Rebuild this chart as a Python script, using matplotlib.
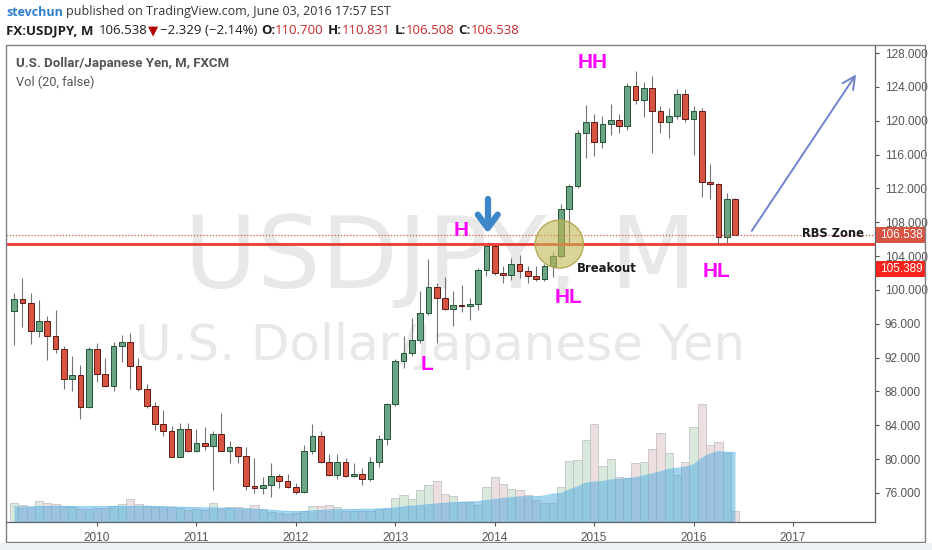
import matplotlib.pyplot as plt
from matplotlib.patches import Rectangle, Ellipse
import numpy as np
import pandas as pd

# monthly candles, Mar 2009 .. Jun 2016
months = pd.date_range("2009-03-01", "2016-06-01", freq="MS")

opens = [97.5, 98.9, 98.5, 95.1, 96.3, 94.6, 93.0, 89.5, 89.9, 86.2,
         93.0, 90.1, 88.6, 93.4, 93.8, 91.0, 88.3, 86.3, 84.1, 83.3, 80.3, 83.6,
         81.0, 81.9, 81.6, 83.0, 81.0, 81.4, 80.4, 76.8, 76.6, 77.0, 78.0, 77.4,
         76.7, 76.1, 81.0, 82.7, 79.7, 78.1, 79.7, 78.0, 78.2, 77.7, 79.7, 82.4,
         86.5, 91.6, 92.5, 94.1, 97.3, 100.4, 99.0, 97.7, 98.2, 98.1, 98.3, 102.4,
         105.2, 102.0, 101.8, 103.1, 102.2, 101.7, 101.3, 102.8, 104.0, 109.6, 112.3, 118.5,
         119.8, 117.5, 119.6, 120.1, 119.4, 124.1, 122.4, 123.9, 121.2, 119.8, 120.6, 123.1,
         120.2, 121.1, 112.7, 112.5, 106.3, 110.7]
highs = [99.6, 101.4, 99.6, 98.8, 96.9, 97.6, 93.4, 92.2, 91.1, 93.2,
         93.7, 92.0, 93.8, 94.7, 94.9, 92.0, 88.9, 86.8, 85.8, 83.9, 84.3, 84.3,
         83.6, 83.8, 83.3, 85.4, 82.1, 81.6, 81.4, 80.1, 77.9, 79.5, 78.3, 78.3,
         77.2, 81.7, 84.2, 83.3, 80.6, 80.6, 80.1, 79.6, 79.0, 80.3, 82.8, 86.6,
         91.8, 94.5, 96.7, 99.9, 103.7, 100.8, 101.5, 99.9, 100.6, 99.0, 102.6, 105.4,
         105.4, 102.8, 103.8, 104.1, 102.8, 102.8, 103.1, 104.5, 110.1, 112.5, 118.9, 121.9,
         120.8, 120.5, 122.0, 120.8, 124.5, 125.9, 124.6, 125.3, 121.7, 121.5, 123.8, 123.7,
         121.7, 121.5, 114.9, 112.6, 111.4, 110.831]
lows = [93.5, 95.6, 93.6, 94.4, 91.7, 92.6, 88.3, 88.0, 84.8, 86.0,
        89.1, 88.5, 88.1, 91.5, 88.3, 88.1, 86.0, 83.5, 82.7, 80.2, 80.2, 80.8,
        80.8, 81.1, 76.3, 81.0, 79.5, 79.6, 76.3, 76.0, 75.9, 75.5, 76.6, 76.6,
        75.9, 76.0, 80.6, 79.6, 78.0, 77.6, 77.9, 77.9, 76.9, 77.4, 79.1, 81.7,
        86.3, 90.8, 92.2, 93.7, 97.0, 93.7, 97.6, 95.7, 97.4, 96.5, 97.6, 101.6,
        101.8, 100.8, 101.2, 101.4, 100.8, 101.1, 101.1, 101.5, 103.8, 105.2, 112.0, 115.6,
        115.8, 116.8, 118.3, 118.5, 118.9, 122.0, 120.4, 116.2, 118.6, 118.0, 120.2, 119.9,
        115.9, 111.0, 110.7, 105.6, 105.5, 106.508]
closes = [98.9, 98.5, 95.1, 96.3, 94.6, 93.0, 89.5, 89.9, 86.2, 93.0,
          90.1, 88.6, 93.4, 93.8, 91.0, 88.3, 86.3, 84.1, 83.3, 80.3, 83.6, 81.0,
          81.9, 81.6, 83.0, 81.0, 81.4, 80.4, 76.8, 76.6, 77.0, 78.0, 77.4, 76.7,
          76.1, 81.0, 82.7, 79.7, 78.1, 79.7, 78.0, 78.2, 77.7, 79.7, 82.4, 86.5,
          91.6, 92.5, 94.1, 97.3, 100.4, 99.0, 97.7, 98.2, 98.1, 98.3, 102.4, 105.2,
          102.0, 101.8, 103.1, 102.2, 101.7, 101.3, 102.8, 104.0, 109.6, 112.3, 118.5, 119.8,
          117.5, 119.6, 120.1, 119.4, 124.1, 122.4, 123.9, 121.2, 119.8, 120.6, 123.1, 120.2,
          121.1, 112.7, 112.5, 106.3, 110.7, 106.538]

# volume (relative units) and its 20-period average
volume = [19.3, 17.0, 15.3, 21.0, 18.7, 17.7, 16.0, 15.3, 12.7, 12.7,
          13.7, 13.7, 16.0, 17.7, 22.7, 17.7, 16.0, 15.3, 15.3, 15.3, 14.3, 12.0,
          12.7, 12.0, 18.7, 13.7, 14.7, 14.7, 13.7, 17.0, 12.7, 9.7, 8.7, 7.7,
          8.7, 11.3, 16.0, 16.0, 16.7, 15.3, 11.3, 11.3, 11.3, 11.3, 12.7, 13.0,
          24.3, 27.0, 23.0, 32.0, 37.0, 41.0, 28.0, 26.0, 20.3, 20.3, 17.0, 34.7,
          45.0, 37.7, 32.7, 32.0, 27.0, 22.0, 19.3, 19.3, 35.3, 61.0, 62.0, 82.0,
          97.7, 56.0, 62.7, 45.3, 44.0, 58.7, 59.7, 73.0, 88.7, 69.3, 47.0, 59.7,
          95.3, 118.0, 77.0, 79.7, 69.3, 11.0]
volume_ma = [15.0, 15.0, 15.0, 15.5, 15.5, 15.5, 15.5, 15.5, 15.3, 15.3,
             15.3, 15.3, 15.5, 15.5, 15.5, 15.7, 15.7, 15.5, 15.3, 15.0, 14.7, 14.5,
             14.3, 14.0, 14.0, 13.7, 13.5, 13.3, 13.0, 12.7, 12.3, 11.7, 11.0, 10.5,
             10.3, 10.5, 11.0, 11.5, 12.0, 12.3, 12.3, 12.5, 12.7, 12.7, 13.0, 13.5,
             14.0, 15.0, 15.7, 16.5, 17.3, 18.0, 18.7, 19.3, 19.7, 20.0, 20.3, 21.3,
             22.5, 23.5, 24.3, 25.0, 25.3, 25.3, 26.0, 27.7, 28.5, 32.0, 35.0, 38.7,
             40.0, 40.3, 42.0, 42.7, 43.5, 44.3, 46.0, 48.0, 50.0, 52.7, 53.7, 54.7,
             57.0, 63.7, 68.0, 70.3, 69.7, 69.3]

year_ticks = [2010, 2011, 2012, 2013, 2014, 2015, 2016, 2017]
price_ticks = list(range(76, 129, 4))
last_price = 106.538
rbs_level = 105.389

W, H = 932, 550
fig = plt.figure(figsize=(W / 100, H / 100), dpi=100, facecolor="white")


def fx(px):
    return px / W


def fy(py):
    return 1 - py / H


left, right, top, bottom = 6, 875, 45, 522
rect = [fx(left), fy(bottom), (right - left) / W, (bottom - top) / H]
ax_v = fig.add_axes(rect)
ax = fig.add_axes(rect)
ax.patch.set_visible(False)

x = np.array(months.year + (months.month - 1) / 12.0)
o = np.array(opens)
h = np.array(highs)
l = np.array(lows)
c = np.array(closes)
up = c >= o

xlim = (2009.085, 2017.825)

# ---- volume pane + watermark
ax_v.set_xlim(*xlim)
ax_v.set_ylim(0, 477)
ax_v.axis("off")
ax_v.text(0.5, 1 - (288 - top) / (bottom - top), "USDJPY, M", transform=ax_v.transAxes,
          ha="center", va="baseline", fontsize=72, color="#e8e8e8", family="DejaVu Sans")
ax_v.text(0.5, 1 - (360 - top) / (bottom - top), "U.S. Dollar/Japanese Yen", transform=ax_v.transAxes,
          ha="center", va="baseline", fontsize=36, color="#e8e8e8", family="DejaVu Sans")
ax_v.bar(x, volume, width=1 / 12, color=np.where(up, "#d9e9dc", "#eddfdf"),
         edgecolor="#b9bcbf", linewidth=0.5, zorder=2)
ax_v.fill_between(x, 0, volume_ma, color="#4aa8e0", alpha=0.5, lw=0, zorder=3)
ax_v.plot(x, volume_ma, color="#5cb6ea", lw=0.8, alpha=0.7, zorder=3)

# ---- candles
ax.set_xlim(*xlim)
ax.set_ylim(72.57, 128.95)
ax.vlines(x, l, h, color="#737375", lw=0.8, zorder=2)
body_lo = np.minimum(o, c)
body_h = np.maximum(np.abs(c - o), 0.15)
ax.bar(x, body_h, width=0.058, bottom=body_lo,
       color=np.where(up, "#6ba583", "#d75442"),
       edgecolor=np.where(up, "#225437", "#5b1a13"), linewidth=0.7, zorder=3)

# levels
ax.axhline(rbs_level, color="#ee3a32", lw=2.0, zorder=4)
ax.axhline(last_price, color="#d75442", lw=0.9, ls=(0, (1, 1.5)), zorder=4)

# axes styling
for s in ["left", "top"]:
    ax.spines[s].set_visible(False)
for s in ["right", "bottom"]:
    ax.spines[s].set_color("#5d606b")
    ax.spines[s].set_linewidth(0.9)
ax.yaxis.tick_right()
ax.set_yticks(price_ticks)
ax.set_yticklabels([f"{t:.3f}" for t in price_ticks])
ax.set_xticks(year_ticks)
ax.set_xticklabels([str(y) for y in year_ticks])
ax.tick_params(axis="y", direction="out", length=3, pad=4, labelsize=8.5,
               colors="#555555", labelfontfamily="Liberation Sans")
ax.tick_params(axis="x", direction="out", length=3, pad=4, labelsize=8.5,
               colors="#555555", labelfontfamily="Liberation Sans")

# ---- annotations
mag = dict(color="#ff00ff", fontweight="bold", fontsize=15, family="Liberation Sans",
           ha="center", va="center", zorder=6)
ax.text(2014.99, 126.94, "HH", **mag)
ax.text(2013.66, 107.08, "H", **mag)
ax.text(2013.32, 91.24, "L", **mag)
ax.text(2014.74, 99.16, "HL", **mag)
ax.text(2016.23, 102.23, "HL", **mag)

ax.add_patch(Ellipse((2014.65, 105.42), 0.483, 5.67, facecolor=(0.76, 0.72, 0.33, 0.6),
                     edgecolor="#b3aa55", lw=1, zorder=5))
ax.text(2014.83, 102.53, "Breakout", fontweight="bold", fontsize=8.4, family="DejaVu Sans",
        color="#1a1a1a", ha="left", va="center", zorder=6)
ax.text(2017.40, 106.72, "RBS Zone", fontweight="bold", fontsize=8.3, family="DejaVu Sans",
        color="#1a1a1a", ha="center", va="center", zorder=6)

# blue down arrow
arrow_c = "#3d86c9"
ax.plot([2013.93, 2013.93], [110.74, 107.4], color=arrow_c, lw=4.5, solid_capstyle="round", zorder=6)
ax.plot([2013.83, 2013.93, 2014.03], [108.9, 107.3, 108.9], color=arrow_c, lw=4.5,
        solid_capstyle="round", solid_joinstyle="round", zorder=6)

# trend arrow
ax.annotate("", xy=(2017.65, 125.75), xytext=(2016.57, 106.7),
            arrowprops=dict(arrowstyle="->,head_length=0.9,head_width=0.45",
                            color="#6f83c8", lw=1.4), zorder=6)

# ---- price labels on the scale
fig.canvas.draw()
y_last = ax.transData.transform((xlim[0], last_price))[1]
fig.patches.append(Rectangle((fx(876), (y_last - 8) / H), 49 / W, 16 / H,
                             transform=fig.transFigure, facecolor="#d75442", edgecolor="none"))
fig.text(fx(901), y_last / H, f"{last_price:.3f}", color="white", fontsize=8.5,
         family="Liberation Sans", ha="center", va="center")
fig.patches.append(Rectangle((fx(876), fy(277)), 49 / W, 16 / H,
                             transform=fig.transFigure, facecolor="#f7231c", edgecolor="none"))
fig.text(fx(901), fy(269), f"{rbs_level:.3f}", color="white", fontsize=8.5,
         family="Liberation Sans", ha="center", va="center")

# ---- frame and background strip
fig.patches.append(Rectangle((fx(6), fy(542)), (925 - 6) / W, (542 - 45) / H,
                             transform=fig.transFigure, fill=False, edgecolor="#7d7f85", lw=1))
fig.patches.append(Rectangle((0, 0), 1, fy(543), transform=fig.transFigure,
                             facecolor="#eef1f4", edgecolor="none"))

# ---- header text runs
renderer = fig.canvas.get_renderer()
hdr_font = ["Open Sans", "DejaVu Sans"]


def write_runs(items, x0, y0, size):
    xpos = x0
    for txt, color, weight, gap in items:
        t = fig.text(fx(xpos), fy(y0), txt, color=color, fontsize=size, fontweight=weight,
                     family=hdr_font, ha="left", va="center")
        xpos += t.get_window_extent(renderer).width + gap


write_runs([("stevchun", "#2f7fd0", "bold", 3),
            ("published on TradingView.com, June 03, 2016 17:57 EST", "#333333", "normal", 0)],
           6, 12, 9)
red = "#c62828"
write_runs([("FX:USDJPY, M", "#1e1e1e", "bold", 5),
            ("106.538", "#1e1e1e", "normal", 1),
            ("\u25bc", "#b00000", "normal", 1),
            ("\u22122.329 (\u22122.14%)", "#1e1e1e", "normal", 4),
            ("O:", "#1e1e1e", "bold", 0), ("110.700", red, "normal", 4),
            ("H:", "#1e1e1e", "bold", 0), ("110.831", red, "normal", 4),
            ("L:", "#1e1e1e", "bold", 0), ("106.508", red, "normal", 4),
            ("C:", "#1e1e1e", "bold", 0), ("106.538", red, "normal", 0)],
           6, 31, 9.5)

fig.text(fx(16), fy(64), "U.S. Dollar/Japanese Yen, M, FXCM", color="#555555",
         fontsize=9.5, fontweight="bold", family=["Roboto", "DejaVu Sans"], ha="left", va="center")
fig.text(fx(16), fy(82), "Vol (20, false)", color="#555555",
         fontsize=9.2, family=["Roboto", "DejaVu Sans"], ha="left", va="center")

fig.savefig("out.png", dpi=100, facecolor="white")
